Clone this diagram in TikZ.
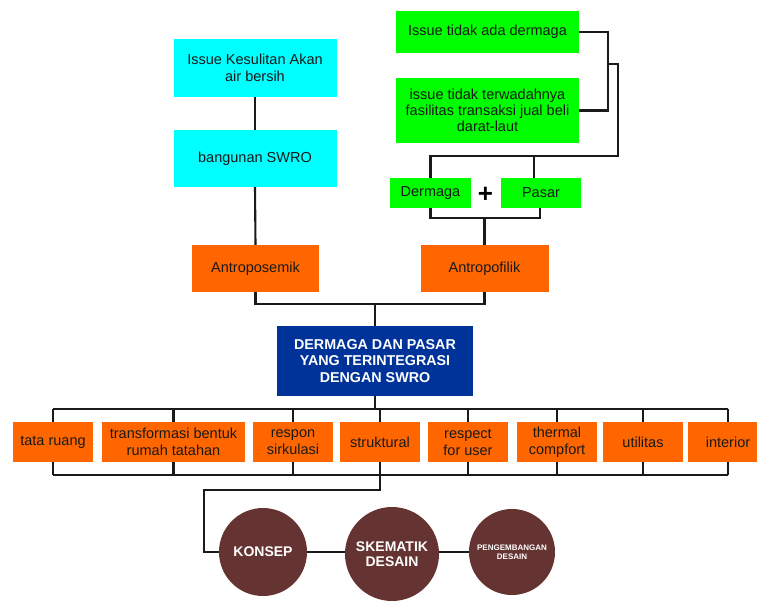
\documentclass[tikz,border=0pt]{standalone}
\usepackage{fontspec}
\setmainfont{Liberation Sans}
\definecolor{cy}{HTML}{00FFFF}
\definecolor{gr}{HTML}{00FF00}
\definecolor{orng}{HTML}{FF6600}
\definecolor{blu}{HTML}{003399}
\definecolor{brn}{HTML}{663333}
\definecolor{ln}{HTML}{1A1A1A}
\begin{document}
\begin{tikzpicture}[x=1pt,y=-1pt,
  box/.style={rectangle, inner sep=0pt, align=center, text=black!90,
    font=\fontsize{14.5}{17}\selectfont},
  cyanbox/.style={box, fill=cy},
  greenbox/.style={box, fill=gr},
  orangebox/.style={box, fill=orng},
  rowbox/.style={box, fill=orng, minimum width=80pt, minimum height=40pt},
  bluebox/.style={box, fill=blu, text=white, font=\fontsize{14.3}{16.3}\selectfont\bfseries},
  circ/.style={circle, fill=brn, text=white, inner sep=0pt, align=center,
    font=\fontsize{14}{15}\selectfont\bfseries},
  conn/.style={draw=ln, line width=2.1pt}
]
\clip (0,0) rectangle (757,603);
\fill[white] (0,0) rectangle (757,603);

% top left cyan
\node[cyanbox, minimum width=163pt, minimum height=58pt] (c1) at (255,68) {Issue Kesulitan Akan\\air bersih};
\node[cyanbox, minimum width=163pt, minimum height=57pt] (c2) at (255,158.5) {bangunan SWRO};

% top right green
\node[greenbox, minimum width=183pt, minimum height=42pt] (g1) at (487.5,32) {Issue tidak ada dermaga};
\node[greenbox, minimum width=183pt, minimum height=65pt, font=\fontsize{14.5}{16.3}\selectfont] (g2) at (487.5,110.5) {issue tidak terwadahnya\\fasilitas transaksi jual beli\\darat-laut};
\node[greenbox, minimum width=81pt, minimum height=30pt] (derm) at (430.5,193) {Dermaga};
\node[greenbox, minimum width=80pt, minimum height=30pt] (pasar) at (541,193) {Pasar};
\node[inner sep=0pt, font=\fontsize{26}{26}\selectfont\bfseries] (plus) at (485.5,195) {+};

% orange middle
\node[orangebox, minimum width=127pt, minimum height=47pt] (aps) at (255.5,268.5) {Antroposemik};
\node[orangebox, minimum width=128pt, minimum height=47pt] (apf) at (484.5,268.5) {Antropofilik};

% blue
\node[bluebox, minimum width=196pt, minimum height=70pt] (main) at (375,361) {DERMAGA DAN PASAR\\YANG TERINTEGRASI\\DENGAN SWRO};

% row
\node[rowbox] (b1) at (53,442) {tata ruang};
\node[rowbox, minimum width=143pt] (b2) at (173.5,442) {transformasi bentuk\\rumah tatahan};
\node[rowbox] (b3) at (293,442) {respon\\sirkulasi};
\node[rowbox] (b4) at (380,442) {struktural};
\node[rowbox] (b5) at (468,442) {respect\\for user};
\node[rowbox] (b6) at (557,442) {thermal\\compfort};
\node[rowbox] (b7) at (643,442) {utilitas};
\node[rowbox] (b8) at (728,442) {interior};

% circles
\node[circ, minimum size=88pt] (k1) at (263,552) {KONSEP};
\node[circ, minimum size=94pt] (k2) at (392,554) {SKEMATIK\\DESAIN};
\node[circ, minimum size=86pt, font=\fontsize{8}{8.5}\selectfont\bfseries] (k3) at (512,552) {PENGEMBANGAN\\DESAIN};

% connectors left column
\draw[conn] (c1.south) -- (c2.north);
\draw[conn] (c2.south) -- (aps.north);

% green connectors
\coordinate (gm) at (608,64);
\draw[conn] (g1.east) -- (608,32) -- (608,110.5) -- (g2.east);
\draw[conn] (gm) -- (618,64) -- (618,156) -- (430.5,156) -- (derm.north);
\draw[conn] (534,156) -- (534,0 |- pasar.north);
\coordinate (dp) at (484.5,218);
\draw[conn] (derm.south) |- (dp) -| (540,0 |- pasar.south);
\draw[conn] (dp) -- (apf.north);

% to main
\coordinate (am) at (375,304);
\draw[conn] (aps.south) |- (am) -| (apf.south);
\draw[conn] (am) -- (main.north);

% row buses
\coordinate (tb) at (375,409);
\draw[conn] (main.south) -- (tb);
\draw[conn] (b1.north |- tb) -- (b8.north |- tb);
\foreach \b in {b1,b2,b3,b4,b5,b6,b7,b8}{
  \draw[conn] (\b.north |- tb) -- (\b.north);
  \draw[conn] (\b.south) -- (\b.south |- 0,475);
}
\draw[conn] (b1.south |- 0,475) -- (b8.south |- 0,475);

% to circles
\draw[conn] (b4.south |- 0,475) -- (380,490) -- (204,490) -- (204,552) -- (k1.west);
\draw[conn] (k1.east) -- (k2.west |- k1.east);
\draw[conn] (k2.east |- k3.west) -- (k3.west);
\end{tikzpicture}
\end{document}
